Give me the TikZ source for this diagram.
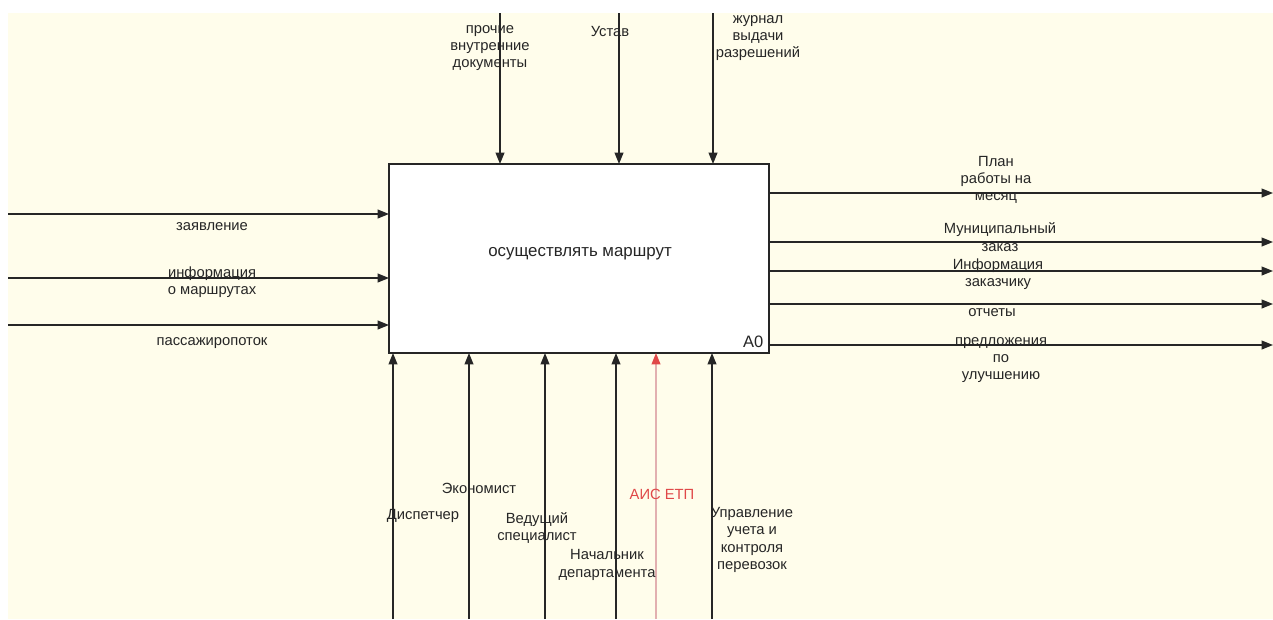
\documentclass[tikz,border=0pt]{standalone}
\usepackage{fontspec}
\setmainfont{Liberation Sans}
\usepackage{tikz}
\usetikzlibrary{arrows.meta,positioning,calc}
\usepackage{xcolor}
\definecolor{sheet}{HTML}{FFFDEB}
\definecolor{ink}{HTML}{262626}
\definecolor{toolred}{HTML}{E04848}
\definecolor{toolline}{HTML}{E2B0B0}

\begin{document}
\begin{tikzpicture}[x=0.02cm,y=-0.02cm,
    flow/.style={line width=0.9pt,ink,-{Triangle[length=6.5pt,width=5pt]}},
    lbl/.style={font=\fontsize{8.4}{9.8}\selectfont,text=ink,align=center,inner sep=0pt}]
  \useasboundingbox (0,0) rectangle (1273,619);
  \fill[white] (0,0) rectangle (1273,619);
  \fill[sheet] (8,13) rectangle (1273,619);

  % activity box
  \node[draw=ink,line width=0.9pt,fill=white,minimum width=7.6cm,minimum height=3.78cm,
        inner sep=0pt,outer sep=0pt] (a0) at (579,258.5) {};
  \node[lbl,font=\fontsize{9.6}{11}\selectfont] (title) at (580,254) {осуществлять маршрут};
  \node[lbl,font=\fontsize{9.4}{10}\selectfont,anchor=south east] (num) at ([xshift=-3pt,yshift=3pt]a0.south east) {A0};

  % controls
  \coordinate (ctlA) at (500,13);
  \coordinate (ctlB) at (619,13);
  \coordinate (ctlC) at (713,13);
  \draw[flow] (ctlA) -- (ctlA |- a0.north);
  \draw[flow] (ctlB) -- (ctlB |- a0.north);
  \draw[flow] (ctlC) -- (ctlC |- a0.north);
  \node[lbl] (ctlAtxt) at (490,48) {прочие\\внутренние\\документы};
  \node[lbl] (ctlBtxt) at (610,31) {Устав};
  \node[lbl] (ctlCtxt) at (758,38) {журнал\\выдачи\\разрешений};

  % inputs
  \coordinate (inA) at (8,214);
  \coordinate (inB) at (8,278);
  \coordinate (inC) at (8,325);
  \draw[flow] (inA) -- (inA -| a0.west);
  \draw[flow] (inB) -- (inB -| a0.west);
  \draw[flow] (inC) -- (inC -| a0.west);
  \node[lbl] (inAtxt) at (212,227) {заявление};
  \node[lbl] (inBtxt) at (212,282) {информация\\о маршрутах};
  \node[lbl] (inCtxt) at (212,343) {пассажиропоток};

  % outputs
  \coordinate (outA) at (1273,193);
  \coordinate (outB) at (1273,242);
  \coordinate (outC) at (1273,271);
  \coordinate (outD) at (1273,304);
  \coordinate (outE) at (1273,345);
  \draw[flow] (outA -| a0.east) -- (outA);
  \draw[flow] (outB -| a0.east) -- (outB);
  \draw[flow] (outC -| a0.east) -- (outC);
  \draw[flow] (outD -| a0.east) -- (outD);
  \draw[flow] (outE -| a0.east) -- (outE);
  \node[lbl] (outAtxt) at (996,180) {План\\работы на\\месяц};
  \node[lbl] (outBtxt) at (1000,237) {Муниципальный\\заказ};
  \node[lbl] (outCtxt) at (998,274) {Информация\\заказчику};
  \node[lbl] (outDtxt) at (992,313) {отчеты};
  \node[lbl] (outEtxt) at (1001,360) {предложения\\по\\улучшению};

  % mechanisms
  \coordinate (mechA) at (393,619);
  \coordinate (mechB) at (469,619);
  \coordinate (mechC) at (545,619);
  \coordinate (mechD) at (616,619);
  \coordinate (mechE) at (656,619);
  \coordinate (mechF) at (712,619);
  \draw[flow] (mechA) -- (mechA |- a0.south);
  \draw[flow] (mechB) -- (mechB |- a0.south);
  \draw[flow] (mechC) -- (mechC |- a0.south);
  \draw[flow] (mechD) -- (mechD |- a0.south);
  \draw[flow,toolline,-{Triangle[length=6.5pt,width=5pt,color=toolred]}] (mechE) -- (mechE |- a0.south);
  \draw[flow] (mechF) -- (mechF |- a0.south);
  \node[lbl] (mechBtxt) at (479,488) {Экономист};
  \node[lbl] (mechAtxt) at (423,516) {Диспетчер};
  \node[lbl] (mechCtxt) at (537,528) {Ведущий\\специалист};
  \node[lbl] (mechDtxt) at (607,565) {Начальник\\департамента};
  \node[lbl,text=toolred] (mechEtxt) at (662,494) {АИС ЕТП};
  \node[lbl] (mechFtxt) at (752,540) {Управление\\учета и\\контроля\\перевозок};
\end{tikzpicture}
\end{document}
